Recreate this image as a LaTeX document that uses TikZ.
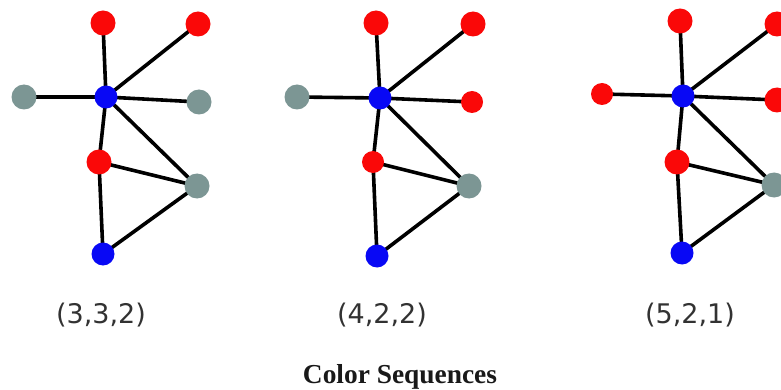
\documentclass[tikz,border=0pt]{standalone}
\usepackage{fontspec}
\setmainfont{Liberation Serif}
\newfontfamily\labfont{DejaVu Sans}
\definecolor{vred}{RGB}{250,8,8}
\definecolor{vblue}{RGB}{8,8,245}
\definecolor{vgrey}{RGB}{124,150,148}
\definecolor{labgrey}{RGB}{50,50,50}
\pgfdeclarelayer{edgelayer}
\pgfsetlayers{edgelayer,main}
\tikzset{
  vtx/.style={circle, inner sep=0pt, draw=none},
  rv/.style={vtx, fill=vred, minimum size=25pt},
  rvs/.style={vtx, fill=vred, minimum size=22pt},
  bv/.style={vtx, fill=vblue, minimum size=23pt},
  gv/.style={vtx, fill=vgrey, minimum size=25pt},
  edge/.style={line width=3.6pt, black},
  seqlab/.style={anchor=base, inner sep=0pt, text=labgrey, font=\labfont\fontsize{27}{30}\selectfont},
  titlelab/.style={anchor=base, inner sep=0pt, text=black!90, font=\bfseries\fontsize{27.4}{32}\selectfont}
}
\begin{document}
\begin{tikzpicture}[x=1pt,y=-1pt]
\useasboundingbox (0,0) rectangle (781,390);
\clip (0,0) rectangle (781,390);
% graph 1
\node[rv] (a1) at (103,23) {};
\node[rv] (a2) at (198,24) {};
\node[gv] (a3) at (24,97) {};
\node[bv] (a4) at (106,97) {};
\node[gv] (a5) at (199,102) {};
\node[rv] (a6) at (99,162) {};
\node[gv] (a7) at (197,186) {};
\node[bv] (a8) at (103,254) {};
% graph 2
\node[rv] (b1) at (376,23) {};
\node[rv] (b2) at (473,24) {};
\node[gv] (b3) at (297,97) {};
\node[bv] (b4) at (380,98) {};
\node[rvs] (b5) at (472,102) {};
\node[rvs] (b6) at (373,162) {};
\node[gv] (b7) at (469,186) {};
\node[bv] (b8) at (377,256) {};
% graph 3
\node[rv] (c1) at (680,21) {};
\node[rv] (c2) at (777,24) {};
\node[rvs] (c3) at (602,94) {};
\node[bv] (c4) at (683,96) {};
\node[rv] (c5) at (777,100) {};
\node[rv] (c6) at (677,162) {};
\node[gv] (c7) at (774,185) {};
\node[bv] (c8) at (682,253) {};
\begin{pgfonlayer}{edgelayer}
\fill[white] (0,0) rectangle (781,390);
\foreach \g in {a,b,c}{
  \draw[edge] (\g4.center) -- (\g1.center);
  \draw[edge] (\g4.center) -- (\g2.center);
  \draw[edge] (\g4.center) -- (\g3.center);
  \draw[edge] (\g4.center) -- (\g5.center);
  \draw[edge] (\g4.center) -- (\g6.center);
  \draw[edge] (\g4.center) -- (\g7.center);
  \draw[edge] (\g6.center) -- (\g7.center);
  \draw[edge] (\g6.center) -- (\g8.center);
  \draw[edge] (\g8.center) -- (\g7.center);
}
\end{pgfonlayer}
% labels
\node[seqlab] (l1) at (101,323) {(3,3,2)};
\node[seqlab] (l2) at (382,323) {(4,2,2)};
\node[seqlab] (l3) at (690,323) {(5,2,1)};
\node[titlelab] (t) at (400,383) {Color Sequences};
\end{tikzpicture}
\end{document}
